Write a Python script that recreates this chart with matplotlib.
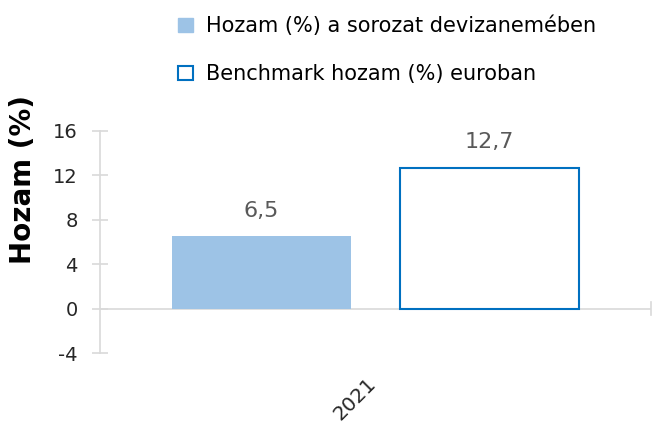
import matplotlib.pyplot as plt
import matplotlib.transforms as mtransforms
from matplotlib.patches import Patch

# Adatok
categories = ['2021']
hozam = [6.5]
benchmark = [12.7]
labels = ['Hozam (%) a sorozat devizanemében', 'Benchmark hozam (%) euroban']
yticks = [-4, 0, 4, 8, 12, 16]

plt.rcParams['font.family'] = ['DejaVu Sans']

fig = plt.figure(figsize=(6.52, 4.25), dpi=100)
ax = fig.add_axes([0.153, 0.169, 0.845, 0.523])

x = list(range(len(categories)))
w = 0.325
off = 0.207
b1 = ax.bar([i - off for i in x], hozam, width=w, color='#9DC3E6', zorder=2)
b2 = ax.bar([i + off for i in x], benchmark, width=w, color='white',
            edgecolor='#0070C0', linewidth=1.5, zorder=2)

for bars, vals in [(b1, hozam), (b2, benchmark)]:
    for r, v in zip(bars, vals):
        ax.annotate(f'{v:.1f}'.replace('.', ','), (r.get_x() + r.get_width() / 2, v),
                    xytext=(0, 11), textcoords='offset points', ha='center', va='bottom',
                    fontsize=16, color='#595959')

ax.set_xlim(-0.5, 0.5)
ax.set_ylim(-4, 16)
ax.set_yticks(yticks)
ax.set_yticklabels([str(t) for t in yticks], fontsize=14, color='#262626')
ax.tick_params(axis='y', direction='inout', length=12, color='#D9D9D9', width=1.2, pad=10)

ax.set_xticks(x)
ax.set_xticklabels(categories, rotation=45, ha='right', rotation_mode='anchor',
                   fontsize=14.5, color='#262626')
ax.tick_params(axis='x', length=0, pad=15)
shift = mtransforms.ScaledTranslation(-9 / 100, 0, fig.dpi_scale_trans)
for lbl in ax.get_xticklabels():
    lbl.set_transform(lbl.get_transform() + shift)

for s in ['top', 'right', 'bottom']:
    ax.spines[s].set_visible(False)
ax.spines['left'].set_color('#D9D9D9')
ax.spines['left'].set_linewidth(1.2)

ax.axhline(0, color='#D9D9D9', linewidth=1.2, zorder=1)
ax.plot([0.5, 0.5], [-0.6, 0.6], color='#D9D9D9', linewidth=1.2, clip_on=False, zorder=1)

ax.set_ylabel('Hozam (%)', fontsize=20, fontweight='bold', va='center')
ax.yaxis.set_label_coords(-0.14, 0.78)

handles = [Patch(facecolor='#9DC3E6', edgecolor='#9DC3E6'),
           Patch(facecolor='white', edgecolor='#0070C0', linewidth=1.5)]
fig.legend(handles, labels, loc='upper left', bbox_to_anchor=(0.245, 1.007),
           frameon=False, fontsize=15, handlelength=0.7, handleheight=0.7,
           handletextpad=0.6, labelspacing=1.35)

fig.savefig('out.png', dpi=100)
